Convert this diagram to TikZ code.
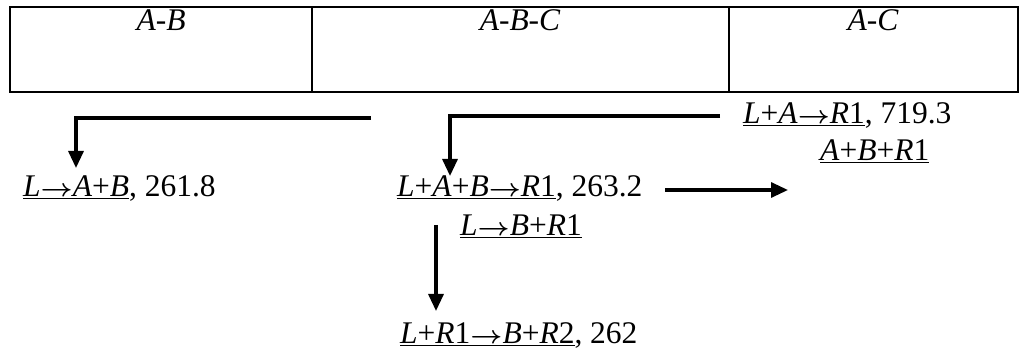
\documentclass[tikz,border=0pt]{standalone}
\usepackage{fontspec}
\setmainfont{Liberation Serif}
\usetikzlibrary{arrows.meta}
\newcommand\iv[1]{\textit{#1}}
\newcommand\rar{\scalebox{1.12}[1]{\boldmath$\rightarrow$}}
\begin{document}
\begin{tikzpicture}[x=1pt,y=-1pt,
  lbl/.style={anchor=base west,inner sep=0pt,font=\fontsize{31.5}{38}\selectfont},
  hdr/.style={anchor=base,inner sep=0pt,font=\fontsize{31.5}{38}\selectfont\itshape},
  frame/.style={line width=2.2pt},
  conn/.style={line width=3.2pt,-{Triangle[width=15pt,length=17pt]}}]
\useasboundingbox (0,0) rectangle (1029,358);
% table
\draw[frame] (10,7) rectangle (1018,92);
\draw[frame] (312,7) -- (312,92);
\draw[frame] (729,7) -- (729,92);
\node[hdr] (h1) at (161,31) {A-B};
\node[hdr] (h2) at (520,31) {A-B-C};
\node[hdr] (h3) at (873,31) {A-C};
% texts
\node[lbl] (t1) at (23,197) {\underline{\iv{L}\rar\iv{A}+\iv{B}}, 261.8};
\node[lbl] (t2) at (743,124) {\underline{\iv{L}+\iv{A}\rar\iv{R}1}, 719.3};
\node[lbl] (t3) at (820,161) {\underline{\iv{A}+\iv{B}+\iv{R}1}};
\node[lbl] (t4) at (397,197) {\underline{\iv{L}+\iv{A}+\iv{B}\rar\iv{R}1}, 263.2};
\node[lbl] (t5) at (460,236) {\underline{\iv{L}\rar\iv{B}+\iv{R}1}};
\node[lbl] (t6) at (400,344) {\underline{\iv{L}+\iv{R}1\rar\iv{B}+\iv{R}2}, 262};
% connectors
\coordinate (s1) at (371,118);
\coordinate (e1) at (76,168);
\coordinate (s2) at (720,116);
\coordinate (e2) at (450,176);
\coordinate (s3) at (665,190);
\coordinate (e3) at (788,190);
\coordinate (s4) at (436,225);
\coordinate (e4) at (436,311);
\draw[conn] (s1) -| (e1);
\draw[conn] (s2) -| (e2);
\draw[conn] (s3) -- (e3);
\draw[conn] (s4) -- (e4);
\end{tikzpicture}
\end{document}
